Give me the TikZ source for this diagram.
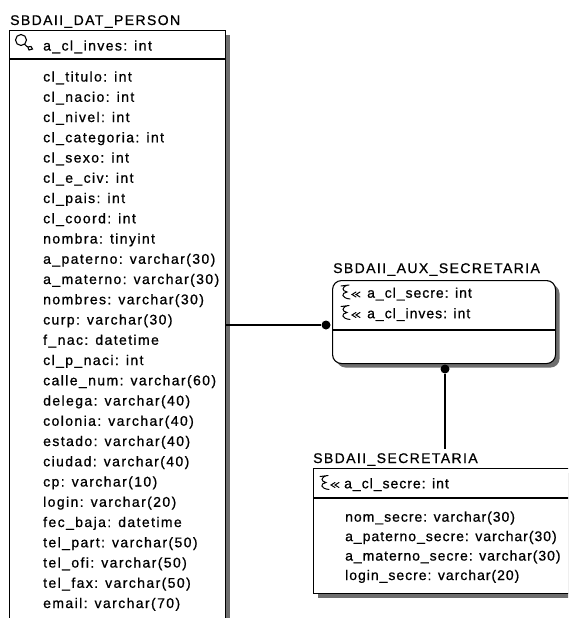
\documentclass[tikz,border=0pt]{standalone}
\usepackage{fontspec}
\usepackage{tikz}
\usetikzlibrary{positioning,calc,shadows}
\newfontfamily\erfont[LetterSpace=10,FakeBold=0.8]{Liberation Sans}
\newfontfamily\erfontn[LetterSpace=7,FakeBold=0.8]{Liberation Sans}
\definecolor{shade}{HTML}{6E6E6E}

\begin{document}
\begin{tikzpicture}[x=1pt,y=-1pt,
        ent/.style={draw=black,line width=1.1pt,fill=white,anchor=north west,
                    drop shadow={shadow xshift=4pt,shadow yshift=-4pt,fill=shade,opacity=1}},
        ttl/.style={font=\erfont\fontsize{14}{17}\selectfont,anchor=base west,inner sep=0pt},
        fld/.style={font=\erfont\fontsize{14}{20.25}\selectfont,anchor=base west,inner sep=0pt,align=left},
        fkdot/.style={circle,fill=black,inner sep=0pt,minimum size=9pt},
        link/.style={line width=1.1pt},
        pkey/.pic={\draw[line width=1.1pt] (0,0) circle (5.5)
                     (3.5,4) .. controls (6,7.5) and (8,7.5) .. (10,6.5) -- (11.5,9) -- (8,10) -- (7,7.5);},
        fkey/.pic={\draw[line width=1pt,line cap=round]
                     (-5,-7) -- (3,-8) (2,-8) .. controls (-5,-6) and (-4,-2) .. (1,-1)
                     .. controls (-5,0) and (-5,5) .. (4,6)
                     (10,-1) -- (6,1.5) -- (10,4) (14,-1) -- (10,1.5) -- (14,4);}]
      \clip (0,0) rectangle (568,618);
      \fill[white] (0,0) rectangle (568,618);

      % SBDAII_DAT_PERSON
      \node[ttl] (t1) at (10,25) {SBDAII\_DAT\_PERSON};
      \node[ent,minimum width=216pt,minimum height=600pt] (person) at (9,30) {};
      \draw[link] ([yshift=-29pt]person.north west) -- ([yshift=-29pt]person.north east);
      \pic at (21,40) {pkey};
      \node[fld] (personkey) at (43,50.5) {a\_cl\_inves: int};
      % base = ultima linea
      \node[fld] (personatt) at (43,608) {cl\_titulo: int\\cl\_nacio: int\\cl\_nivel: int\\
        cl\_categoria: int\\cl\_sexo: int\\cl\_e\_civ: int\\cl\_pais: int\\cl\_coord: int\\
        nombra: tinyint\\a\_paterno: varchar(30)\\a\_materno: varchar(30)\\nombres: varchar(30)\\
        curp: varchar(30)\\f\_nac: datetime\\cl\_p\_naci: int\\calle\_num: varchar(60)\\
        delega: varchar(40)\\colonia: varchar(40)\\estado: varchar(40)\\ciudad: varchar(40)\\
        cp: varchar(10)\\login: varchar(20)\\fec\_baja: datetime\\tel\_part: varchar(50)\\
        tel\_ofi: varchar(50)\\tel\_fax: varchar(50)\\email: varchar(70)};

      % SBDAII_AUX_SECRETARIA
      \node[ttl] (t2) at (333,273) {SBDAII\_AUX\_SECRETARIA};
      \node[ent,rounded corners=9pt,minimum width=223pt,minimum height=83pt] (aux) at (332,280) {};
      \draw[link] ([yshift=-50pt]aux.north west) -- ([yshift=-50pt]aux.north east);
      \pic at (346,293) {fkey};
      \pic at (346,313.5) {fkey};
      \node[fld,font=\erfontn\fontsize{14}{20.5}\selectfont] (auxkey) at (367,318.2) {a\_cl\_secre: int\\a\_cl\_inves: int};

      % SBDAII_SECRETARIA
      \node[ttl] (t3) at (313,463) {SBDAII\_SECRETARIA};
      \node[ent,minimum width=270pt,minimum height=125pt] (secre) at (313,468) {};
      \draw[link] ([yshift=-30pt]secre.north west) -- ([yshift=-30pt]secre.north east);
      \pic at (325,483.5) {fkey};
      \node[fld,font=\erfontn\fontsize{14}{20}\selectfont] (secrekey) at (344,488.3) {a\_cl\_secre: int};
      \node[fld,font=\erfontn\fontsize{14}{19.45}\selectfont] (secreatt) at (345,580)
        {nom\_secre: varchar(30)\\a\_paterno\_secre: varchar(30)\\a\_materno\_secre: varchar(30)\\login\_secre: varchar(20)};

      % relaciones
      \node[fkdot] (d1) at (326,325) {};
      \node[fkdot] (d2) at (445,369) {};
      \draw[link] (person.east |- d1) -- (d1);
      \draw[link] (d2) -- ([yshift=4pt]t3.north -| d2);
    \end{tikzpicture}
\end{document}
